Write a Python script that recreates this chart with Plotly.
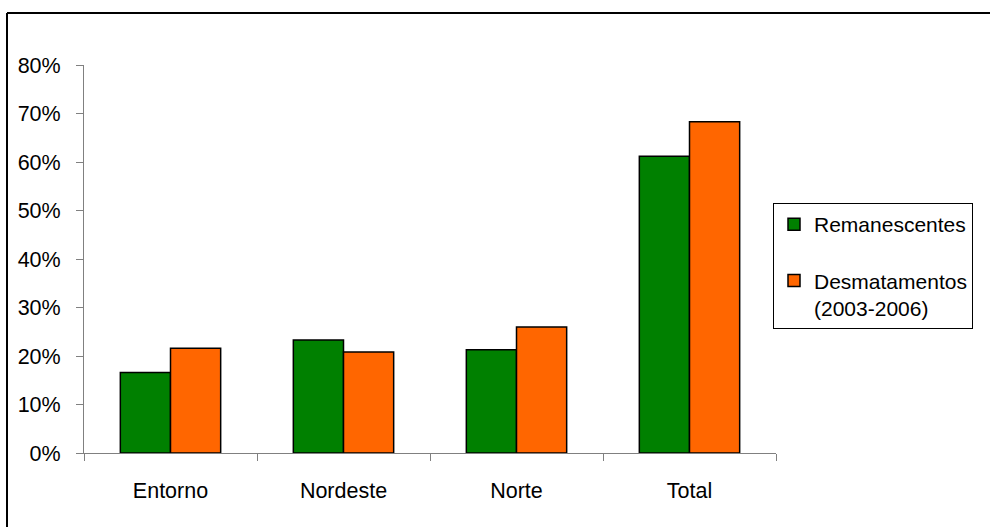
import plotly.graph_objects as go

categories = ["Entorno", "Nordeste", "Norte", "Total"]
remanescentes = [0.166, 0.233, 0.213, 0.612]
desmatamentos = [0.216, 0.208, 0.260, 0.683]
y_ticks = [0, 0.1, 0.2, 0.3, 0.4, 0.5, 0.6, 0.7, 0.8]
y_tick_labels = ["0%", "10%", "20%", "30%", "40%", "50%", "60%", "70%", "80%"]

W, H = 990, 527
L, R, T, B = 84, 776, 65, 453

def px_x(p):
    return (p - L) / (R - L)

def px_y(p):
    return (B - p) / (B - T)

FAMILY = "Liberation Sans, Arial, sans-serif"
font = dict(family=FAMILY, size=21.5, color="black")

fig = go.Figure()
fig.add_trace(go.Bar(
    x=categories, y=remanescentes, name="Remanescentes",
    marker=dict(color="#008000", line=dict(color="black", width=1.5)),
    legendgroup="a",
))
fig.add_trace(go.Bar(
    x=categories, y=desmatamentos, name="Desmatamentos<br>(2003-2006)",
    marker=dict(color="#FF6600", line=dict(color="black", width=1.5)),
    legendgroup="b",
))

fig.update_layout(
    width=W, height=H,
    margin=dict(l=L, r=W - R, t=T, b=H - B, pad=0),
    paper_bgcolor="white", plot_bgcolor="white",
    font=font,
    barmode="group", bargap=0.42, bargroupgap=0,
    showlegend=True,
    legend=dict(
        x=px_x(773), y=px_y(203), xanchor="left", yanchor="top",
        bordercolor="black", borderwidth=1, bgcolor="white",
        font=dict(family=FAMILY, size=21),
        tracegroupgap=26, valign="top", itemwidth=30,
    ),
    xaxis=dict(
        showline=True, linecolor="#808080", linewidth=1,
        ticks="outside", ticklen=7, tickcolor="#808080",
        tickson="boundaries", showgrid=False,
        ticklabelstandoff=18, automargin=False,
    ),
    yaxis=dict(
        range=[0, 0.8], tickvals=y_ticks, ticktext=y_tick_labels,
        showline=True, linecolor="#808080", linewidth=1,
        ticks="outside", ticklen=7, tickcolor="#808080",
        showgrid=False, zeroline=False, ticklabelstandoff=11,
        automargin=False,
    ),
    shapes=[
        dict(type="line", xref="paper", yref="paper",
             x0=px_x(7), y0=px_y(530), x1=px_x(7), y1=px_y(13),
             line=dict(color="black", width=2)),
        dict(type="line", xref="paper", yref="paper",
             x0=px_x(7), y0=px_y(13), x1=px_x(995), y1=px_y(13),
             line=dict(color="black", width=2)),
    ],
)

fig.write_html("out.html")
